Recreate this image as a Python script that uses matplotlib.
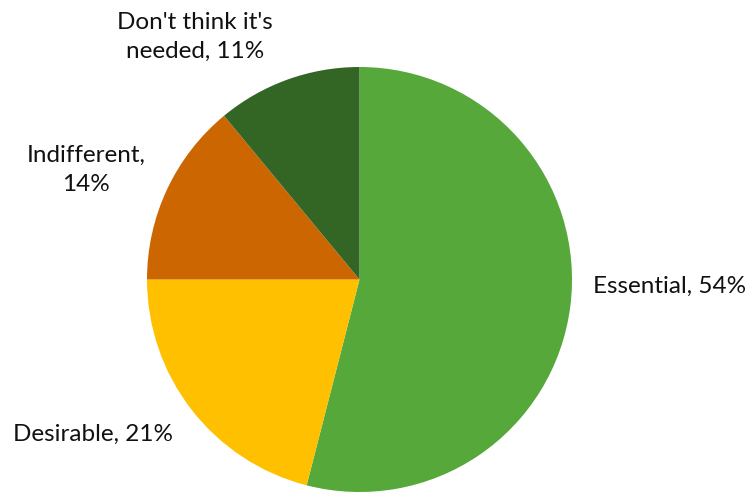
import matplotlib
matplotlib.use("Agg")
import matplotlib.pyplot as plt

categories = ["Essential", "Desirable", "Indifferent", "Don't think it's needed"]
values = [54, 21, 14, 11]
colors = ["#55A839", "#FFC000", "#CC6600", "#336625"]
label_texts = ["Essential, 54%", "Desirable, 21%", "Indifferent,\n14%", "Don't think it's\nneeded, 11%"]

plt.rcParams['font.family'] = ['Lato', 'DejaVu Sans']

W, H = 749, 492
fig = plt.figure(figsize=(W / 100, H / 100), dpi=100)
cx, cy, r = 359.5, 279.5, 212.5
ax = fig.add_axes([(cx - r) / W, (H - cy - r) / H, 2 * r / W, 2 * r / H])
ax.pie(values, colors=colors, startangle=90, counterclock=False, radius=1,
       wedgeprops=dict(linewidth=0))
ax.set_xlim(-1, 1)
ax.set_ylim(-1, 1)
ax.set_aspect("equal")
ax.axis("off")

def px(x, y):
    return ((x - cx) / r, (cy - y) / r)

positions = [
    (px(593, 286), "left", "center"),
    (px(173, 434), "right", "center"),
    (px(86, 170), "center", "center"),
    (px(195, 37), "center", "center"),
]
for txt, (pos, ha, va) in zip(label_texts, positions):
    ax.text(pos[0], pos[1], txt, ha=ha, va=va, fontsize=17.5, color="#111111",
            linespacing=1.45, clip_on=False)

fig.savefig("out.png", dpi=100)
